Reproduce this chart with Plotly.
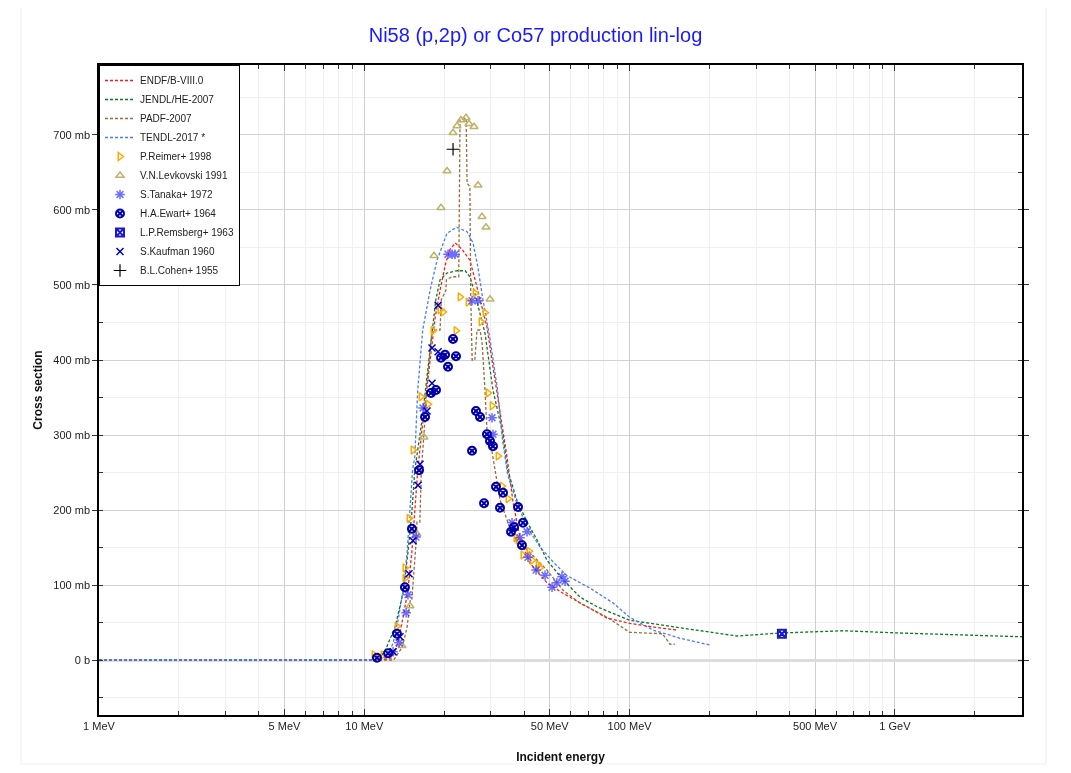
import plotly.graph_objects as go

# evaluated cross sections (energy in MeV, cross section in mb)
endf_e = [1, 11.5, 12.7, 13.4, 14.0, 14.6, 15.1, 15.5, 15.9, 16.5, 17.2, 17.7, 18.5, 19.3, 20.2, 21.0, 22.0,
          23.3, 25.0, 26.6, 29.0, 30.55, 32.5, 34.5, 36.4, 38.6, 42.1, 48.8, 56.1, 65.0, 82.2, 100, 122.5, 151]
endf_xs = [0, 0, 3, 23, 57, 93, 143, 200, 253, 307, 360, 404, 457, 493, 527, 547, 556,
           548, 533, 497, 444, 391, 333, 271, 209, 164, 129, 103, 89, 76, 56, 49, 44, 40]

jendl_e = [1, 11.3, 12.0, 13.06, 14.0, 14.6, 15.1, 15.5, 16.5, 17.7, 18.6, 19.3, 20.5, 22.4, 24.0, 25.0, 26.1,
           28.5, 30.55, 33.2, 34.7, 37.6, 41.1, 44.8, 48.8, 56.1, 65.0, 75.4, 100, 155, 254, 369, 637, 1045,
           1870, 3013]
jendl_xs = [0, 0, 13, 44, 89, 143, 196, 253, 320, 413, 480, 507, 516, 519, 519, 511, 489,
            436, 360, 303, 253, 213, 184, 160, 133, 107, 84, 71, 53, 43, 32, 36, 39, 36,
            33, 31]

padf_e = [1, 12.9, 13.9, 14.5, 14.9, 15.1, 15.7, 15.8, 16.2, 16.4, 16.9, 17.2, 18.0, 19.3, 19.5, 20.3, 20.4,
          21.4, 22.2, 22.7, 22.95, 24.2, 24.4, 25.0, 25.2, 25.5, 26.1, 26.6, 27.3, 27.8, 28.5, 29.0, 29.8,
          31.1, 32.5, 34.5, 36.4, 41.1, 44.8, 48.8, 56.1, 65.0, 82.2, 100, 133, 138, 142, 148]
padf_xs = [0, 0, 17, 44, 80, 80, 160, 184, 184, 253, 316, 364, 440, 440, 480, 493, 507,
           511, 511, 511, 720, 723, 636, 631, 480, 400, 400, 440, 440, 423, 360, 307, 293,
           253, 213, 187, 164, 147, 133, 120, 93, 76, 57, 37, 35, 27, 21, 21]

tendl_e = [1, 11.0, 12.2, 12.85, 13.4, 14.0, 14.5, 14.87, 15.2, 15.5, 15.9, 16.6, 17.7, 18.8, 20.5, 22.3,
           24.4, 25.7, 26.8, 27.8, 29.8, 31.8, 33.2, 34.7, 37.6, 41.1, 45.9, 51.4, 57.8, 70.8, 86.7, 100,
           122.5, 155, 201]
tendl_xs = [0, 0, 4, 23, 53, 93, 143, 200, 253, 271, 360, 440, 493, 533, 569, 577,
            571, 556, 524, 487, 427, 360, 293, 247, 209, 177, 151, 131, 113, 96, 76, 57,
            40, 29, 20]

# experimental data
reimer_e = [10.88, 11.76, 13.28, 14.23, 14.23, 14.74, 15.26, 16.36, 17.38, 18.15, 19.29, 19.81, 22.16, 22.95,
            24.6, 26.14, 27.54, 28.51, 29.27, 30.3, 31.92, 33.04, 34.8, 37.3, 37.97, 39.6, 41.8, 42.9, 45.2, 45.9]
reimer_xs = [7, 7, 45, 109, 123, 189, 280, 351, 341, 439, 467, 464, 439, 484,
             477, 489, 451, 463, 356, 339, 272, 232, 215, 163, 160, 140, 145, 133, 127, 123]

levkovski_e = [13.87, 14.87, 15.8, 16.79, 18.31, 19.46, 20.5, 21.6, 22.36, 23.15, 24.17, 24.81, 25.92, 26.83,
               27.77, 28.75, 29.77]
levkovski_xs = [19, 72, 168, 297, 539, 603, 652, 703, 712, 720, 723, 715, 711, 633,
                591, 577, 481]

tanaka_e = [12.83, 13.51, 14.37, 14.61, 15.66, 16.65, 20.68, 21.41, 21.98, 25.47, 26.83, 30.3, 30.55, 36.04,
            38.62, 41.05, 41.4, 44.4, 48.0, 51.0, 53.2, 55.6, 57.1]
tanaka_xs = [11, 23, 63, 87, 164, 336, 541, 541, 541, 479, 479, 323, 301, 183,
             163, 171, 137, 120, 113, 97, 103, 111, 105]

ewart_e = [11.16, 12.29, 13.28, 14.23, 15.12, 16.08, 16.94, 17.84, 18.63, 19.46, 20.15, 20.68, 21.6, 22.16,
           25.47, 26.36, 27.3, 28.27, 29.0, 29.77, 30.55, 31.36, 32.47, 33.33, 35.73, 36.67, 37.97, 39.29, 39.65]
ewart_xs = [3, 9, 35, 97, 175, 253, 324, 356, 360, 403, 407, 391, 428, 405,
            279, 332, 324, 209, 301, 292, 285, 231, 203, 223, 171, 177, 204, 153, 183]

remsberg_e = [375]
remsberg_xs = [35]

kaufman_e = [12.83, 13.63, 14.74, 15.26, 15.94, 16.22, 17.23, 18.0, 18.0, 18.97, 18.97]
kaufman_xs = [11, 31, 115, 159, 233, 261, 332, 369, 416, 411, 473]

cohen_e = [21.6]
cohen_xs = [681]

x_tickvals = [1, 5, 10, 50, 100, 500, 1000]
x_ticktext = ["1 MeV", "5 MeV", "10 MeV", "50 MeV", "100 MeV", "500 MeV", "1 GeV"]
y_tickvals = [0, 100, 200, 300, 400, 500, 600, 700]
y_ticktext = ["0 b", "100 mb", "200 mb", "300 mb", "400 mb", "500 mb", "600 mb", "700 mb"]

FONT = "Liberation Sans, Arial, sans-serif"
W, H = 1055, 757

fig = go.Figure()

curves = [
    ("ENDF/B-VIII.0", endf_e, endf_xs, "#ff1a1a"),
    ("JENDL/HE-2007", jendl_e, jendl_xs, "#0b7a1e"),
    ("PADF-2007", padf_e, padf_xs, "#9c6a3c"),
    ("TENDL-2017 *", tendl_e, tendl_xs, "#4a7cf0"),
]
for name, e, xs, color in curves:
    fig.add_trace(go.Scatter(
        x=e, y=xs, name=name, mode="lines",
        line=dict(color=color, width=1.3, dash="3px,2px"),
    ))

points = [
    ("P.Reimer+ 1998", reimer_e, reimer_xs, "triangle-right-open", "#ffaa00", 7, 1.5, 1),
    ("V.N.Levkovski 1991", levkovski_e, levkovski_xs, "triangle-up-open", "#bdb36b", 7, 1.5, 1),
    ("S.Tanaka+ 1972", tanaka_e, tanaka_xs, "asterisk-open", "#3d3dff", 8, 1.5, 0.75),
    ("H.A.Ewart+ 1964", ewart_e, ewart_xs, "circle-x-open", "#0000aa", 8, 2, 1),
    ("L.P.Remsberg+ 1963", remsberg_e, remsberg_xs, "square-x-open", "#1a1acc", 8, 2, 1),
    ("S.Kaufman 1960", kaufman_e, kaufman_xs, "x-thin-open", "#0000bb", 7, 1.5, 1),
    ("B.L.Cohen+ 1955", cohen_e, cohen_xs, "cross-thin-open", "#000000", 9, 1.2, 1),
]
for name, e, xs, symbol, color, size, lw, op in points:
    fig.add_trace(go.Scatter(
        x=e, y=xs, name=name, mode="markers", opacity=op,
        marker=dict(symbol=symbol, size=size, color=color, line=dict(color=color, width=lw)),
    ))

fig.update_layout(
    width=W,
    height=H,
    paper_bgcolor="white",
    plot_bgcolor="white",
    margin=dict(l=91, r=41, t=57, b=50, autoexpand=False),
    font=dict(family=FONT, size=11, color="#222222"),
    title=dict(
        text="Ni58 (p,2p) or Co57 production lin-log",
        x=0.5, xanchor="center", y=1 - 27 / H, yanchor="middle",
        font=dict(family=FONT, size=20, color="#1a1aff"),
    ),
    showlegend=True,
    legend=dict(
        x=0, y=1, xanchor="left", yanchor="top",
        bgcolor="white", bordercolor="black", borderwidth=1,
        font=dict(family=FONT, size=10, color="#222222"),
        tracegroupgap=0,
    ),
    xaxis=dict(
        type="log",
        range=[0, 3.479],
        automargin=False,
        tickvals=x_tickvals,
        ticktext=x_ticktext,
        showgrid=True, gridcolor="#cfcfcf", gridwidth=1,
        ticks="inside", ticklen=6, tickcolor="#333333",
        showline=True, linecolor="black", linewidth=1.5, mirror="ticks",
        minor=dict(dtick="D1", showgrid=True, gridcolor="#f0f0f0", ticks="inside", ticklen=4,
                   tickcolor="#333333"),
        title=dict(text="<b>Incident energy</b>", font=dict(family=FONT, size=12, color="#111111"),
                   standoff=22),
        zeroline=False,
    ),
    yaxis=dict(
        range=[-73.3, 793.3],
        automargin=False,
        tickvals=y_tickvals,
        ticktext=y_ticktext,
        showgrid=True, gridcolor="#d2d2d2", gridwidth=1,
        ticks="outside", ticklen=5, tickcolor="#333333",
        showline=True, linecolor="black", linewidth=1.5, mirror="ticks",
        minor=dict(dtick=50, showgrid=True, gridcolor="#f0f0f0", ticks="inside", ticklen=4,
                   tickcolor="#333333"),
        zeroline=True, zerolinecolor="#dcdcdc", zerolinewidth=3,
        title=dict(text="<b>Cross section</b>", font=dict(family=FONT, size=12, color="#111111"),
                   standoff=8),
    ),
)

# faint frame around the whole chart area
fig.add_shape(
    type="rect", xref="paper", yref="paper",
    x0=-78 / 923, x1=947 / 923, y0=-49 / 650, y1=711 / 650,
    line=dict(color="#eeeeee", width=1), fillcolor="rgba(0,0,0,0)", layer="below",
)

fig.write_html("out.html")
